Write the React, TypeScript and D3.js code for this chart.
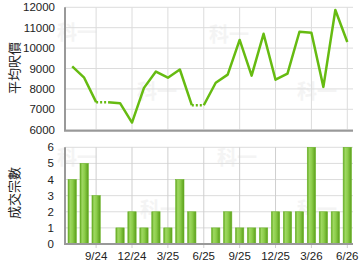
import React from "react";
import * as d3 from "d3";

const months = ["7/24","8/24","9/24","10/24","11/24","12/24","1/25","2/25","3/25","4/25","5/25","6/25","7/25","8/25","9/25","10/25","11/25","12/25","1/26","2/26","3/26","4/26","5/26","6/26"];
const prices: (number | null)[] = [9100,8550,7350,null,7300,6350,8050,8850,8550,8950,7200,null,8300,8700,10400,8650,10700,8450,8750,10800,10750,8100,11870,10300];
const counts = [4,5,3,0,1,2,1,2,1,4,2,0,1,2,1,1,1,2,2,2,6,2,2,6];
const tickMonths = ["9/24","12/24","3/25","6/25","9/25","12/25","3/26","6/26"];
const priceTicks = [6000,7000,8000,9000,10000,11000,12000];
const countTicks = [0,1,2,3,4,5,6];

const W = 360, H = 270;
const L = 65, R = 353;
const font = "Arial, 'Liberation Sans', sans-serif";

export default function App() {
  const x = d3.scaleLinear().domain([0, months.length - 1]).range([72.2, 347.3]);
  const yP = d3.scaleLinear().domain([6000, 12000]).range([129.7, 7.3]);
  const yC = d3.scaleLinear().domain([0, 6]).range([244, 147.3]);
  const line = d3.line<[number, number]>().x(d => d[0]).y(d => d[1]);

  const solid: [number, number][][] = [];
  const dotted: [number, number][][] = [];
  let cur: [number, number][] = [];
  let last: number | null = null;
  prices.forEach((v, i) => {
    if (v == null) {
      if (last != null) {
        dotted.push([[x(i - 1), yP(last)], [x(i), yP(last)]]);
        if (cur.length > 1) solid.push(cur);
        cur = [[x(i), yP(last)]];
      }
    } else {
      cur.push([x(i), yP(v)]);
      last = v;
    }
  });
  if (cur.length > 1) solid.push(cur);

  const tickIdx = tickMonths.map(t => months.indexOf(t));
  const bw = 8.3;
  const wm = (cx: number, cy: number, k: string) => (
    <text key={k} x={cx} y={cy} fontSize={20} fontWeight="bold" fill="#f4f4f4" fontFamily="'Noto Sans CJK SC', sans-serif" textAnchor="middle">科一</text>
  );

  return (
    <svg width={W} height={H} style={{ position: "fixed", left: 0, top: 0, background: "#fff" }} fontFamily={font}>
      <defs>
        <linearGradient id="barg" x1="0" x2="1" y1="0" y2="0">
          <stop offset="0%" stopColor="#5ea51c" />
          <stop offset="25%" stopColor="#9fd862" />
          <stop offset="55%" stopColor="#8ccd4a" />
          <stop offset="100%" stopColor="#5a9e1a" />
        </linearGradient>
      </defs>
      {wm(77, 40, "w1")}{wm(229, 42, "w2")}{wm(157, 99, "w3")}{wm(317, 99, "w4")}
      {wm(77, 165, "w5")}{wm(237, 165, "w6")}{wm(160, 217, "w7")}{wm(317, 217, "w8")}

      {priceTicks.map(t => (
        <line key={"hp" + t} x1={L} x2={R} y1={yP(t)} y2={yP(t)} stroke="#dcdcdc" strokeWidth={1} />
      ))}
      {tickIdx.map(i => (
        <line key={"vp" + i} x1={x(i)} x2={x(i)} y1={yP(12000)} y2={yP(6000)} stroke="#dcdcdc" strokeWidth={1} />
      ))}
      {countTicks.map(t => (
        <line key={"hc" + t} x1={L} x2={R} y1={yC(t)} y2={yC(t)} stroke="#dcdcdc" strokeWidth={1} />
      ))}
      {tickIdx.map(i => (
        <line key={"vc" + i} x1={x(i)} x2={x(i)} y1={yC(6)} y2={yC(0) + 4} stroke="#cfcfcf" strokeWidth={1} />
      ))}

      {counts.map((c, i) => c > 0 ? (
        <rect key={"b" + i} x={x(i) - bw / 2} y={yC(c)} width={bw} height={yC(0) - yC(c)} fill="url(#barg)" stroke="#6cb52a" strokeWidth={0.6} />
      ) : null)}

      <line x1={L} x2={L} y1={yP(12000)} y2={yP(6000) + 1} stroke="#999" strokeWidth={2} />
      <line x1={L - 1} x2={R} y1={yP(6000) + 1} y2={yP(6000) + 1} stroke="#999" strokeWidth={2} />
      <line x1={L} x2={L} y1={yC(6)} y2={yC(0)} stroke="#999" strokeWidth={2} />
      <line x1={L - 1} x2={R} y1={yC(0)} y2={yC(0)} stroke="#999" strokeWidth={2} />

      {solid.map((s, k) => (
        <path key={"s" + k} d={line(s) || ""} fill="none" stroke="#66bb11" strokeWidth={2.5} strokeLinejoin="round" />
      ))}
      {dotted.map((s, k) => (
        <path key={"d" + k} d={line(s) || ""} fill="none" stroke="#66bb11" strokeWidth={2.5} strokeDasharray="2 2" />
      ))}

      {priceTicks.map(t => (
        <text key={"lp" + t} x={55} y={yP(t) + 4} fontSize={11.5} textAnchor="end" fill="#222">{t}</text>
      ))}
      {countTicks.map(t => (
        <text key={"lc" + t} x={54} y={yC(t) + 4} fontSize={11.5} textAnchor="end" fill="#222">{t}</text>
      ))}
      {tickIdx.map(i => (
        <text key={"lx" + i} x={x(i)} y={260} fontSize={11.5} textAnchor="middle" fill="#222">{months[i]}</text>
      ))}

      <text transform={`translate(19,68) rotate(-90)`} fontSize={13} textAnchor="middle" fill="#222" fontFamily="'Noto Sans CJK TC', sans-serif">平均呎價</text>
      <text transform={`translate(19,193) rotate(-90)`} fontSize={13} textAnchor="middle" fill="#222" fontFamily="'Noto Sans CJK TC', sans-serif">成交宗數</text>
    </svg>
  );
}
